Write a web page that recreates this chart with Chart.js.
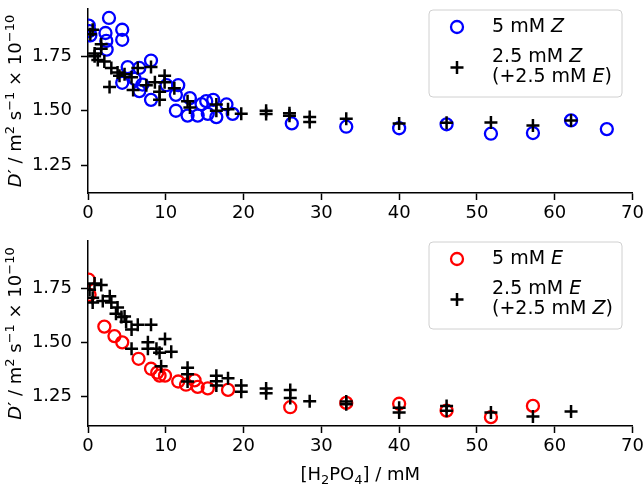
<!DOCTYPE html>
<html><head><meta charset="utf-8">
<script src="https://cdn.jsdelivr.net/npm/chart.js@4"></script>
<style>
html,body{margin:0;padding:0;background:#fff;}
#wrap{position:relative;width:644px;height:484px;overflow:hidden;}
#c1{position:absolute;left:0;top:0;}
#c2{position:absolute;left:0;top:232px;}
</style></head><body>
<div id="wrap"><canvas id="c1" width="644" height="232"></canvas><canvas id="c2" width="644" height="252"></canvas></div>
<script>
// ---- data ----
const xTickValues = [0, 10, 20, 30, 40, 50, 60, 70];
const yTickValues = [1.25, 1.50, 1.75];
const yTickLabels = ['1.25', '1.50', '1.75'];

// top panel: 5 mM Z (circles)
const zPureX = [0.1, 0.2, 0.3, 2.7, 2.25, 2.35, 2.4, 4.4, 4.4, 4.4, 5.1, 6.6, 8.1, 6.0, 6.6, 8.1, 7.0, 10.1, 11.6, 11.3, 11.3, 13.1, 12.8, 14.1, 15.2, 16.1, 16.5, 15.4, 17.8, 18.6, 14.6, 26.2, 33.2, 40.0, 46.1, 51.8, 57.2, 62.1, 66.7];
const zPureY = [1.89, 1.865, 1.845, 1.925, 1.856, 1.82, 1.78, 1.871, 1.825, 1.628, 1.70, 1.696, 1.73, 1.646, 1.59, 1.55, 1.62, 1.617, 1.617, 1.573, 1.50, 1.558, 1.478, 1.478, 1.544, 1.55, 1.471, 1.486, 1.529, 1.486, 1.53, 1.442, 1.427, 1.42, 1.438, 1.395, 1.398, 1.456, 1.416];
// top panel: 2.5 mM Z (+2.5 mM E) (plus)
const zMixX = [0.6, 0.3, 1.7, 1.7, 0.85, 0.85, 1.26, 2.1, 3.0, 3.8, 4.05, 4.7, 6.4, 8.1, 2.77, 5.6, 5.8, 7.5, 8.6, 9.2, 9.2, 9.85, 9.85, 11.1, 12.8, 13.1, 16.5, 16.5, 18.0, 19.7, 22.9, 22.9, 25.9, 25.9, 28.5, 28.5, 33.2, 40.0, 46.1, 51.8, 57.2, 62.1];
const zMixY = [1.871, 1.85, 1.805, 1.784, 1.762, 1.75, 1.733, 1.726, 1.696, 1.675, 1.66, 1.667, 1.696, 1.70, 1.609, 1.653, 1.595, 1.617, 1.631, 1.587, 1.551, 1.66, 1.631, 1.603, 1.544, 1.515, 1.529, 1.50, 1.507, 1.486, 1.50, 1.485, 1.489, 1.477, 1.471, 1.449, 1.464, 1.442, 1.445, 1.446, 1.432, 1.456];

// bottom panel: 5 mM E (circles)
const ePureX = [0.1, 0.2, 2.1, 3.4, 4.4, 6.5, 8.1, 8.9, 9.2, 9.9, 11.6, 12.6, 13.7, 14.1, 15.4, 18.0, 26.0, 33.2, 40.0, 46.1, 51.8, 57.2];
const ePureY = [1.79, 1.72, 1.573, 1.529, 1.50, 1.424, 1.378, 1.36, 1.346, 1.346, 1.319, 1.304, 1.324, 1.294, 1.287, 1.28, 1.20, 1.22, 1.216, 1.184, 1.154, 1.206];
// bottom panel: 2.5 mM E (+2.5 mM Z) (plus)
const eMixX = [0.2, 0.84, 1.7, 0.6, 0.6, 1.9, 2.8, 3.0, 3.8, 3.6, 4.3, 4.7, 4.9, 5.6, 6.4, 8.1, 5.6, 7.7, 7.7, 8.8, 9.9, 9.2, 10.7, 9.4, 12.8, 12.8, 12.8, 16.5, 16.5, 16.5, 18.0, 19.7, 19.7, 22.9, 22.9, 26.0, 26.0, 28.5, 33.2, 33.2, 40.0, 40.0, 46.1, 46.1, 51.8, 57.2, 62.1];
const eMixY = [1.743, 1.772, 1.765, 1.706, 1.684, 1.691, 1.713, 1.684, 1.661, 1.632, 1.617, 1.62, 1.595, 1.559, 1.581, 1.581, 1.47, 1.50, 1.47, 1.47, 1.515, 1.452, 1.456, 1.39, 1.382, 1.353, 1.319, 1.346, 1.32, 1.30, 1.334, 1.30, 1.272, 1.287, 1.265, 1.28, 1.242, 1.228, 1.226, 1.214, 1.198, 1.176, 1.206, 1.184, 1.176, 1.157, 1.18];

// ---- helpers ----
const FAM = "'DejaVu Sans'";
const F = (s, it) => (it ? 'italic ' : '') + s + 'px ' + FAM;
function pts(xs, ys) { return xs.map((x, i) => ({ x: x, y: ys[i] })); }

function richWidth(ctx, segs) {
  let w = 0;
  for (const s of segs) { ctx.font = s.font; w += ctx.measureText(s.t).width; }
  return w;
}
function drawRich(ctx, segs, x, y) {
  let cx = x;
  for (const s of segs) {
    ctx.font = s.font;
    ctx.fillText(s.t, cx, y + (s.dy || 0));
    cx += ctx.measureText(s.t).width;
  }
}

const N = F(18), I = F(18, true), SUP = F(13);
const LN = F(19), LI = F(19, true);
const yTitleSegs = [
  { t: 'D', font: I }, { t: '\u2032 / m', font: N }, { t: '2', font: SUP, dy: -7 },
  { t: ' s', font: N }, { t: '\u22121', font: SUP, dy: -7 },
  { t: ' \u00d7 10', font: N }, { t: '\u221210', font: SUP, dy: -7 }
];
const xTitleSegs = [
  { t: '[H', font: N }, { t: '2', font: SUP, dy: 4 }, { t: 'PO', font: N },
  { t: '4', font: SUP, dy: 4 }, { t: '] / mM', font: N }
];

function legendPlugin(cfg) {
  return {
    id: 'custom' + cfg.id,
    afterDraw(chart) {
      const ctx = chart.ctx;
      const ca = chart.chartArea;
      ctx.save();
      ctx.fillStyle = '#000';
      // y title
      ctx.save();
      ctx.translate(21, (ca.top + ca.bottom) / 2);
      ctx.rotate(-Math.PI / 2);
      ctx.textBaseline = 'alphabetic';
      const w = richWidth(ctx, yTitleSegs);
      drawRich(ctx, yTitleSegs, -w / 2, 0);
      ctx.restore();
      // x title
      if (cfg.xTitle) {
        ctx.textBaseline = 'alphabetic';
        const wx = richWidth(ctx, xTitleSegs);
        drawRich(ctx, xTitleSegs, (ca.left + ca.right) / 2 - wx / 2, cfg.xTitleY);
      }
      // legend
      const bx = 429, by = cfg.legendTop, bw = 193, bh = 87;
      ctx.beginPath();
      ctx.roundRect(bx, by, bw, bh, 4);
      ctx.fillStyle = 'rgba(255,255,255,0.8)';
      ctx.fill();
      ctx.strokeStyle = '#d0d0d0';
      ctx.lineWidth = 1;
      ctx.stroke();
      const ds = chart.data.datasets;
      const circ = ds.find(d => d.pointStyle === 'circle');
      const plus = ds.find(d => d.pointStyle === 'cross');
      const mx = 457;
      ctx.beginPath();
      ctx.arc(mx, by + 17, circ.pointRadius, 0, Math.PI * 2);
      ctx.strokeStyle = circ.borderColor;
      ctx.lineWidth = circ.pointBorderWidth;
      ctx.stroke();
      ctx.beginPath();
      const r = plus.pointRadius;
      ctx.moveTo(mx - r, by + 57.5); ctx.lineTo(mx + r, by + 57.5);
      ctx.moveTo(mx, by + 57.5 - r); ctx.lineTo(mx, by + 57.5 + r);
      ctx.strokeStyle = plus.borderColor;
      ctx.lineWidth = plus.pointBorderWidth;
      ctx.stroke();
      ctx.fillStyle = '#000';
      ctx.textBaseline = 'middle';
      drawRich(ctx, cfg.line1, 492, by + 17);
      drawRich(ctx, cfg.line2, 492, by + 47);
      drawRich(ctx, cfg.line3, 492, by + 67);
      ctx.restore();
    }
  };
}

function makeOptions(yMin, yMax, xAxisHeight) {
  const tickFont = { family: 'DejaVu Sans', size: 18 };
  return {
    responsive: false,
    animation: false,
    devicePixelRatio: 1,
    layout: { padding: { left: 0, right: 11.5, top: 0, bottom: 0 } },
    plugins: { legend: { display: false }, tooltip: { enabled: false } },
    scales: {
      x: {
        type: 'linear', min: 0, max: 70,
        afterBuildTicks: s => { s.ticks = xTickValues.map(v => ({ value: v })); },
        afterFit: s => { s.height = xAxisHeight; s.paddingLeft = 0; s.paddingRight = 0; },
        ticks: { font: tickFont, color: '#000', padding: 3, maxRotation: 0, autoSkip: false,
                 callback: v => String(v) },
        grid: { drawOnChartArea: false, drawTicks: true, tickLength: 7, tickWidth: 1.5, tickColor: '#000' },
        border: { display: true, color: '#000', width: 1.5 }
      },
      y: {
        type: 'linear', min: yMin, max: yMax,
        afterBuildTicks: s => { s.ticks = yTickValues.map(v => ({ value: v })); },
        afterFit: s => { s.width = 88; s.paddingTop = 0; s.paddingBottom = 0; },
        ticks: { font: tickFont, color: '#000', padding: 9, autoSkip: false,
                 callback: (v) => { const i = yTickValues.findIndex(t => Math.abs(t - v) < 1e-9); return i >= 0 ? yTickLabels[i] : ''; } },
        grid: { drawOnChartArea: false, drawTicks: true, tickLength: 7, tickWidth: 1.5, tickColor: '#000' },
        border: { display: true, color: '#000', width: 1.5 }
      }
    }
  };
}

function circleSet(label, xs, ys, color) {
  return { label: label, data: pts(xs, ys), showLine: false, pointStyle: 'circle', pointRadius: 6,
           pointBorderWidth: 2.3, borderColor: color, backgroundColor: 'rgba(0,0,0,0)', order: 2, clip: 0 };
}
function plusSet(label, xs, ys) {
  return { label: label, data: pts(xs, ys), showLine: false, pointStyle: 'cross', pointRadius: 6.5,
           pointBorderWidth: 2.5, borderColor: '#000', backgroundColor: '#000', order: 1, clip: 0 };
}

new Chart(document.getElementById('c1'), {
  type: 'scatter',
  data: { datasets: [
    circleSet('5 mM Z', zPureX, zPureY, '#0000ff'),
    plusSet('2.5 mM Z (+2.5 mM E)', zMixX, zMixY)
  ] },
  options: makeOptions(1.1235, 1.966, 39),
  plugins: [legendPlugin({
    id: 1, xTitle: false, legendTop: 10,
    line1: [{ t: '5 mM ', font: LN }, { t: 'Z', font: LI }],
    line2: [{ t: '2.5 mM ', font: LN }, { t: 'Z', font: LI }],
    line3: [{ t: '(+2.5 mM ', font: LN }, { t: 'E', font: LI }, { t: ')', font: LN }]
  })]
});

new Chart(document.getElementById('c2'), {
  type: 'scatter',
  data: { datasets: [
    circleSet('5 mM E', ePureX, ePureY, '#ff0000'),
    plusSet('2.5 mM E (+2.5 mM Z)', eMixX, eMixY)
  ] },
  options: makeOptions(1.113, 1.969, 58),
  plugins: [legendPlugin({
    id: 2, xTitle: true, xTitleY: 248, legendTop: 10,
    line1: [{ t: '5 mM ', font: LN }, { t: 'E', font: LI }],
    line2: [{ t: '2.5 mM ', font: LN }, { t: 'E', font: LI }],
    line3: [{ t: '(+2.5 mM ', font: LN }, { t: 'Z', font: LI }, { t: ')', font: LN }]
  })]
});
</script>
</body></html>
